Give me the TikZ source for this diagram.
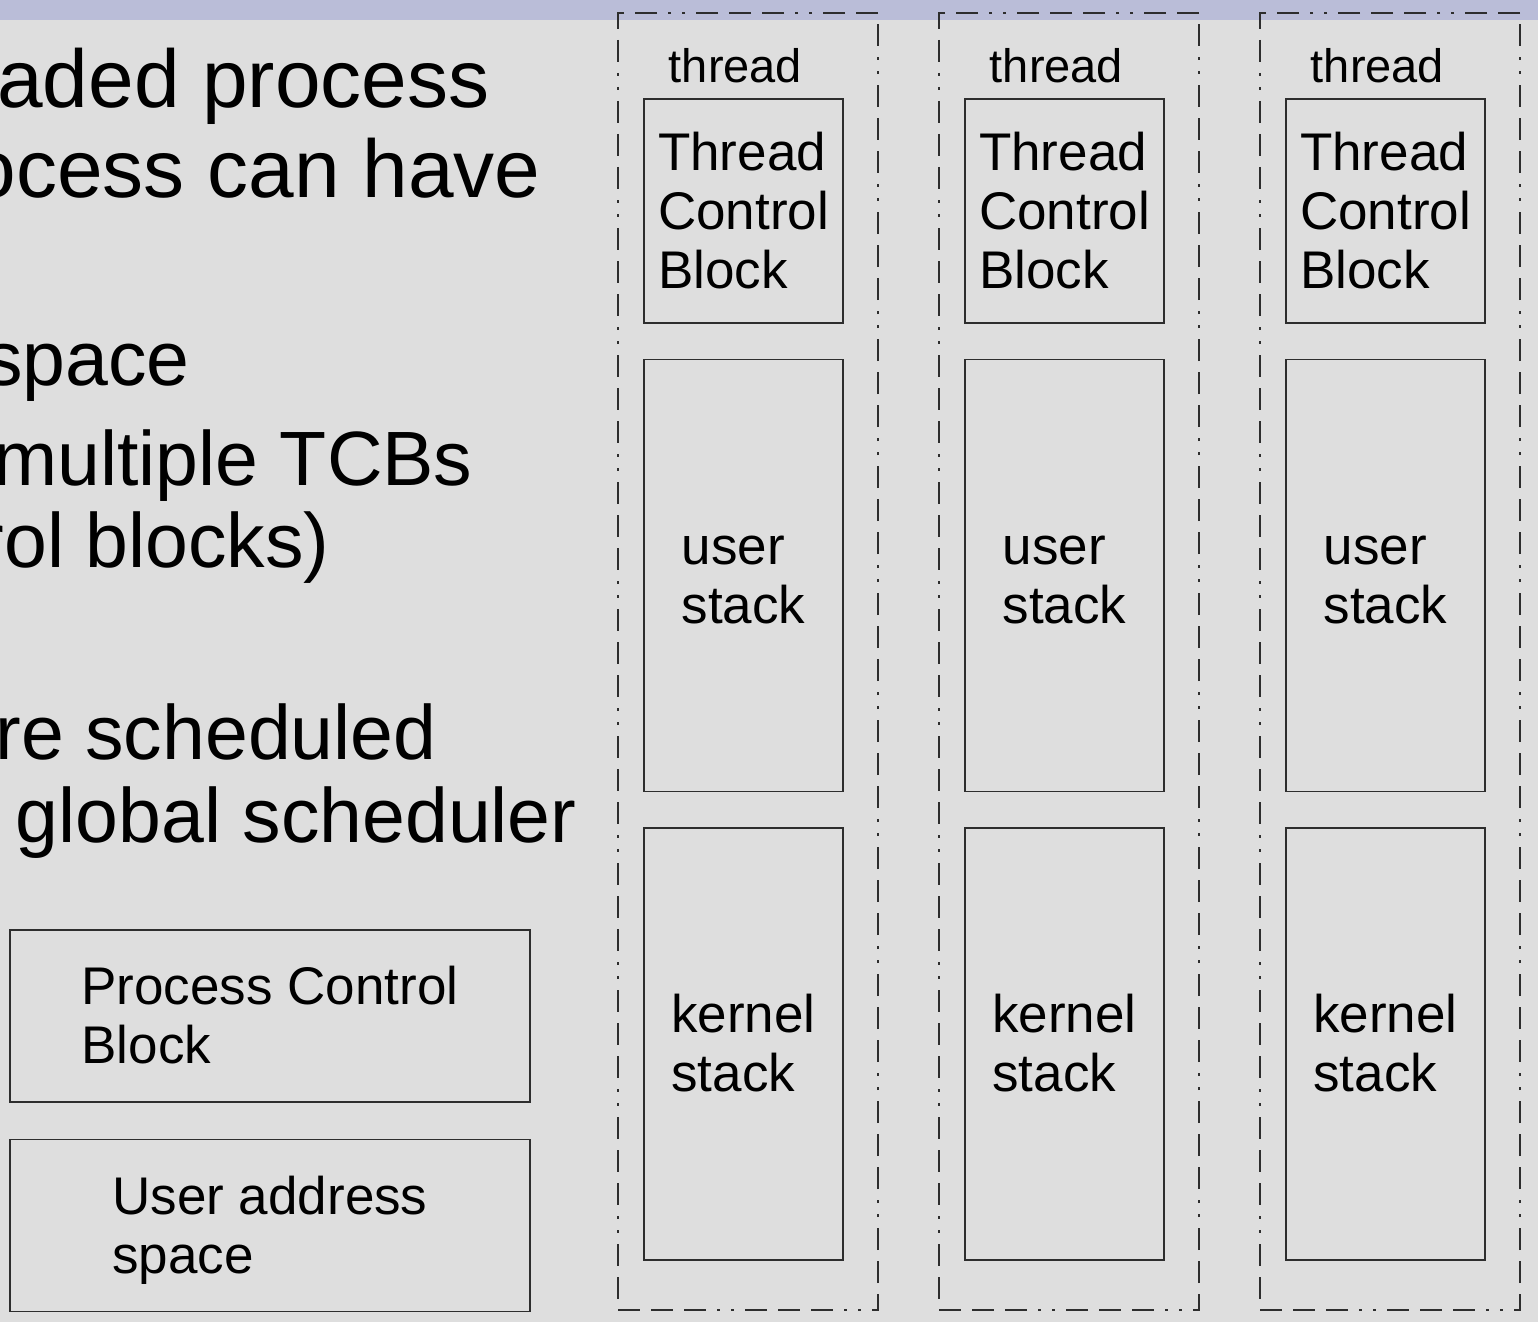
\documentclass[tikz,border=0pt]{standalone}
\usepackage{fontspec}
\setmainfont{Liberation Sans}
\usepackage{xcolor}
\usepackage{tikz}
\usetikzlibrary{shapes,arrows,positioning}

\definecolor{slidebg}{RGB}{222,222,222}
\definecolor{slidebar}{RGB}{186,189,216}
\definecolor{edge}{RGB}{45,45,45}

\newcommand{\topstrut}{\rule{0pt}{0.905em}}
\newcommand{\botstrut}{\rule[-0.212em]{0pt}{0pt}}

\begin{document}
\begin{tikzpicture}[x=0.5pt, y=-0.5pt, auto]
                    % Define styles
                    \tikzstyle{block} = [rectangle, draw=edge, line width=0.7pt, align=left, inner sep=0pt, font=\fontsize{26.5}{29.5}\selectfont, execute at end node={\botstrut}]
                    \tikzstyle{tcbbox} = [block, minimum width=99.5pt, minimum height=112pt]
                    \tikzstyle{stackbox} = [block, minimum width=99.5pt, minimum height=216pt]
                    \tikzstyle{procbox} = [block, minimum width=260pt, minimum height=86pt]
                    \tikzstyle{threadframe} = [rectangle, draw=edge, line width=0.6pt, dash pattern=on 11pt off 5.5pt on 11pt off 5.5pt on 11pt off 5.5pt on 1.5pt off 5.5pt on 1.5pt off 5.5pt, minimum width=130pt, minimum height=648.5pt, inner sep=0pt]
                    \tikzstyle{threadlabel} = [font=\fontsize{23.5}{28}\selectfont, inner sep=0pt]
                    \tikzstyle{bullet} = [anchor=base east, inner sep=0pt, font=\fontsize{38.5}{46}\selectfont]
                    \tikzstyle{bigbullet} = [bullet, font=\fontsize{41}{49}\selectfont]

                    % Slide background
                    \useasboundingbox (0,0) rectangle (1538,1322);
                    \clip (0,0) rectangle (1538,1322);
                    \fill[slidebg] (0,0) rectangle (1538,1322);
                    \fill[slidebar] (0,0) rectangle (1538,20);

                    % Bullet text (cut at the left edge)
                    \node[bigbullet] (line1) at (490,108) {aded process};
                    \node[bigbullet] (line2) at (541,198) {ocess can have};
                    \node[bullet] (line3) at (190,385) {space};
                    \node[bullet] (line4) at (473,485) {multiple TCBs};
                    \node[bullet] (line5) at (330,567) {rol blocks)};
                    \node[bullet] (line6) at (437,759) {re scheduled};
                    \node[bullet] (line7) at (577,842) {global scheduler};

                    % Process blocks
                    \node[procbox] (pcb) at (270,1016) {\topstrut Process Control\\Block};
                    \node[procbox, below=18pt of pcb] (uas) {\topstrut User address\\space};

                    % Threads
                    \foreach \i in {0,1,2} {
                        \node[threadframe] (frame\i) at (748+321*\i,661.5) {};
                        \node[tcbbox] (tcb\i) at (743.5+321*\i,211) {\topstrut Thread\\Control\\Block};
                        \node[stackbox, below=17.5pt of tcb\i] (user\i) {\topstrut user\\stack};
                        \node[stackbox, below=17.5pt of user\i] (kern\i) {\topstrut kernel\\stack};
                        \node[threadlabel, above=8pt of tcb\i, anchor=base, xshift=-4pt] (label\i) {thread};
                    }
                \end{tikzpicture}
\end{document}
